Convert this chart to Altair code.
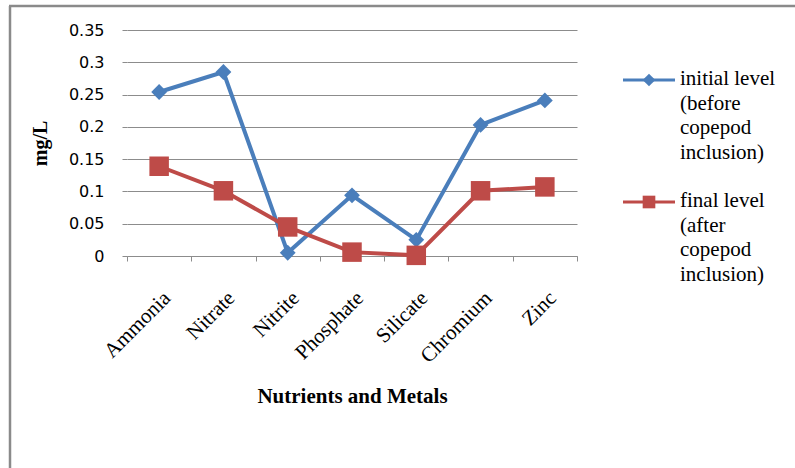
import altair as alt
import pandas as pd

categories = ["Ammonia", "Nitrate", "Nitrite", "Phosphate", "Silicate", "Chromium", "Zinc"]
initial_level = [0.254, 0.285, 0.005, 0.094, 0.025, 0.203, 0.241]
final_level = [0.139, 0.101, 0.045, 0.006, 0.001, 0.101, 0.107]
series = ["initial", "final"]
legend_labels = ["initial level\n(before\ncopepod\ninclusion)", "final level\n(after\ncopepod\ninclusion)"]
y_ticks = [0, 0.05, 0.1, 0.15, 0.2, 0.25, 0.3, 0.35]

BLUE = "#4a7ebb"
RED = "#be4b48"
GRID = "#8c8c8c"

rows = []
for c, v in zip(categories, initial_level):
    rows.append({"cat": c, "value": v, "series": "initial"})
for c, v in zip(categories, final_level):
    rows.append({"cat": c, "value": v, "series": "final"})
df = pd.DataFrame(rows)

x_enc = alt.X(
    "cat:N", sort=categories, bandPosition=0.5,
    scale=alt.Scale(type="band", paddingInner=0, paddingOuter=0),
    axis=alt.Axis(
        title="Nutrients and Metals", labelAngle=-45, tickBand="extent",
        labelFont="Liberation Serif", labelFontSize=21, labelColor="#000",
        labelPadding=26,
        titleFont="Liberation Serif", titleFontSize=21, titleFontWeight="bold",
        titleColor="#000", titlePadding=19,
        domainColor=GRID, domainWidth=1, tickColor=GRID, tickSize=5, grid=False,
    ),
)
y_enc = alt.Y(
    "value:Q",
    scale=alt.Scale(domain=[0, 0.35], nice=False, zero=True),
    axis=alt.Axis(
        title="mg/L", values=y_ticks, format="~g",
        labelFont="DejaVu Sans", labelFontSize=16, labelColor="#000", labelPadding=18,
        titleFont="Liberation Serif", titleFontSize=20, titleFontWeight="bold",
        titleColor="#000", titlePadding=18,
        domain=False, tickColor=GRID, tickSize=5, grid=True, gridColor=GRID, gridWidth=1,
    ),
)

base = alt.Chart(df).encode(x=x_enc, y=y_enc)

blue_line = base.transform_filter(alt.datum.series == "initial").mark_line(color=BLUE, strokeWidth=4)
blue_pts = base.transform_filter(alt.datum.series == "initial").mark_point(
    shape="diamond", filled=True, color=BLUE, size=250, opacity=1)
red_line = base.transform_filter(alt.datum.series == "final").mark_line(color=RED, strokeWidth=4)
red_pts = base.transform_filter(alt.datum.series == "final").mark_point(
    shape="square", filled=True, color=RED, size=380, opacity=1)

# legend (drawn manually)
leg_df = pd.DataFrame({"series": series, "label": legend_labels})
leg_i = leg_df[leg_df.series == "initial"]
leg_f = leg_df[leg_df.series == "final"]

def legend_item(d, color, shape, yy):
    line = alt.Chart(d).mark_rule(color=color, strokeWidth=3).encode(
        x=alt.value(496), x2=alt.value(548), y=alt.value(yy))
    sym = alt.Chart(d).mark_point(shape=shape, filled=True, color=color, size=160, opacity=1).encode(
        x=alt.value(522), y=alt.value(yy))
    txt = alt.Chart(d).mark_text(
        align="left", baseline="top", lineBreak="\n", lineHeight=24.5,
        font="Liberation Serif", fontSize=21, color="#000").encode(
        x=alt.value(553), y=alt.value(yy - 12), text="label:N")
    return [line, sym, txt]

# outer frame (left and top edges)
frame_df = pd.DataFrame({"k": [0]})
frame_left = alt.Chart(frame_df).mark_rule(color="#8a8a8a", strokeWidth=2.5).encode(
    x=alt.value(-117), y=alt.value(-24), y2=alt.value(440))
frame_top = alt.Chart(frame_df).mark_rule(color="#8a8a8a", strokeWidth=2.5).encode(
    x=alt.value(-118), x2=alt.value(670), y=alt.value(-24))

chart = alt.layer(
    blue_line, blue_pts, red_line, red_pts,
    *legend_item(leg_i, BLUE, "diamond", 50),
    *legend_item(leg_f, RED, "square", 172),
    frame_left, frame_top,
).properties(
    width=450, height=226,
    padding={"left": 127, "top": 30, "right": 218, "bottom": 212},
    autosize=alt.AutoSizeParams(type="none"),
    background="white",
).configure_view(stroke=None)

chart.save("out.html", embed_options={"renderer": "svg", "actions": False})
